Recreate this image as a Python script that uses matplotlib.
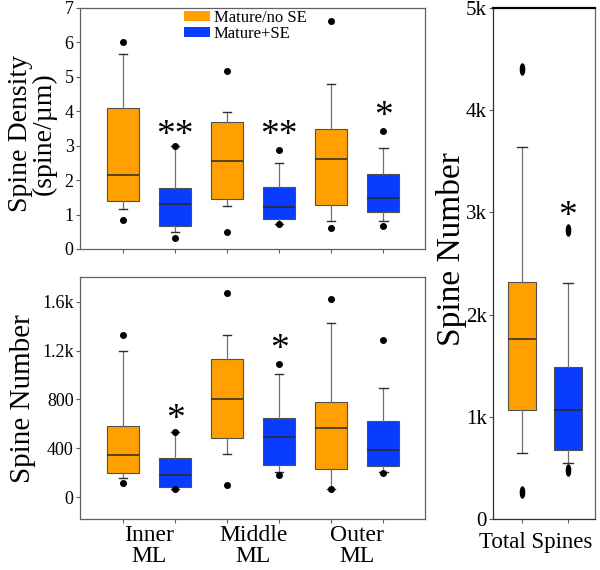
import numpy as np
import matplotlib.pyplot as plt
from matplotlib.path import Path
from matplotlib.patches import Patch

plt.rcParams['font.family'] = ['Liberation Serif', 'DejaVu Serif']

ORANGE = '#FFA000'
BLUE = '#0A3CFF'
EDGE = '#505050'

# --- Data ---
series = ["Mature/no SE", "Mature+SE"]
regions = ["Inner\nML", "Middle\nML", "Outer\nML"]

# spine density, boxes ordered inner/orange, inner/blue, middle/orange, ...
dens_lo = [1.15, 0.48, 1.25, 0.73, 0.81, 0.81]
dens_q1 = [1.39, 0.67, 1.46, 0.87, 1.28, 1.07]
dens_med = [2.15, 1.30, 2.55, 1.23, 2.62, 1.49]
dens_q3 = [4.09, 1.78, 3.70, 1.81, 3.48, 2.19]
dens_hi = [5.65, 2.98, 3.99, 2.51, 4.79, 2.93]
dens_fl = [[6.02, 0.84], [3.0, 0.32], [5.18, 0.48], [2.88, 0.73], [6.63, 0.62], [3.43, 0.68]]
dens_stars = ["", "**", "", "**", "", "*"]
dens_star_y = [0, 3.28, 0, 3.28, 0, 3.84]

# spine number per region
num_lo = [153, 63, 350, 203, 63, 203]
num_q1 = [194, 85, 481, 263, 230, 254]
num_med = [342, 180, 801, 495, 564, 383]
num_q3 = [582, 320, 1132, 648, 777, 624]
num_hi = [1198, 536, 1329, 1012, 1425, 894]
num_fl = [[1329, 112], [536, 63], [1674, 98], [1089, 180], [1627, 63], [1291, 194]]
num_stars = ["", "*", "", "*", "", ""]
num_star_y = [0, 632, 0, 1206, 0, 0]
num_ticks = [0, 400, 800, 1200, 1600]
num_ticklabels = ["0", "400", "800", "1.2k", "1.6k"]

# total spines
tot_lo = [643, 551]
tot_q1 = [1067, 672]
tot_med = [1761, 1064]
tot_q3 = [2322, 1484]
tot_hi = [3643, 2306]
tot_fl = [[4400, 261], [2828, 479]]
tot_stars = ["", "*"]
tot_star_y = [0, 2955]
tot_ticks = [0, 1000, 2000, 3000, 4000, 5000]
tot_ticklabels = ["0", "1k", "2k", "3k", "4k", "5k"]


def draw_boxes(ax, lo, q1, med, q3, hi, fl, marker='o', ms=4, width=0.62, capw=0.16):
    stats = []
    for i in range(len(lo)):
        stats.append(dict(whislo=lo[i], q1=q1[i], med=med[i], q3=q3[i],
                          whishi=hi[i], fliers=fl[i]))
    pos = np.arange(1, len(lo) + 1)
    bp = ax.bxp(stats, positions=pos, widths=width, patch_artist=True,
                showfliers=True, capwidths=capw,
                boxprops=dict(edgecolor=EDGE, linewidth=0.8),
                medianprops=dict(color='#282828', linewidth=1.1),
                whiskerprops=dict(color='#707070', linewidth=0.9),
                capprops=dict(color='#303030', linewidth=1.0),
                flierprops=dict(marker=marker, markerfacecolor='black',
                                markeredgecolor='black', markersize=ms))
    for i, b in enumerate(bp['boxes']):
        b.set_facecolor(ORANGE if i % 2 == 0 else BLUE)
    return pos


def add_stars(ax, pos, stars, ys, size):
    for p, s, y in zip(pos, stars, ys):
        if s:
            ax.text(p, y, s, ha='center', va='center', fontsize=size)


def style(ax, labelsize):
    for sp in ax.spines.values():
        sp.set_color('#606060')
        sp.set_linewidth(0.9)
    ax.tick_params(axis='both', direction='out', length=3, width=0.8,
                   color='#606060', labelsize=labelsize, pad=1.5)


fig = plt.figure(figsize=(6, 5.7), dpi=100)

# top-left: density
ax1 = fig.add_axes([0.1333, 0.5632, 0.575, 0.423])
pos = draw_boxes(ax1, dens_lo, dens_q1, dens_med, dens_q3, dens_hi, dens_fl)
add_stars(ax1, pos, dens_stars, dens_star_y, 27)
ax1.set_xlim(0.17, 6.8)
ax1.set_ylim(0, 7)
ax1.set_yticks(range(8))
ax1.set_xticks(pos)
ax1.set_xticklabels([])
style(ax1, 13)
ax1.set_ylabel("Spine Density\n(spine/\u00b5m)", fontsize=20, linespacing=0.95)
ax1.yaxis.set_label_coords(-0.067, 0.48)
handles = [Patch(facecolor=ORANGE, edgecolor='none'), Patch(facecolor=BLUE, edgecolor='none')]
ax1.legend(handles, series, loc='upper left', bbox_to_anchor=(0.296, 1.0),
           frameon=False, fontsize=12, handlelength=1.6, handleheight=0.55,
           handletextpad=0.2, labelspacing=0.05, borderpad=0.1, borderaxespad=0)

# bottom-left: spine number
ax2 = fig.add_axes([0.1333, 0.0895, 0.575, 0.4246])
pos = draw_boxes(ax2, num_lo, num_q1, num_med, num_q3, num_hi, num_fl)
add_stars(ax2, pos, num_stars, num_star_y, 27)
ax2.set_xlim(0.17, 6.8)
ax2.set_ylim(-180, 1805)
ax2.set_yticks(num_ticks)
ax2.set_yticklabels(num_ticklabels)
ax2.set_xticks(pos)
ax2.set_xticklabels([])
ax2.set_xticks([1.5, 3.5, 5.5], minor=True)
ax2.set_xticklabels(regions, minor=True, fontsize=17, linespacing=1.05)
style(ax2, 13)
ax2.tick_params(axis='x', which='minor', length=0, pad=4)
ax2.set_ylabel("Spine Number", fontsize=21)
ax2.yaxis.set_label_coords(-0.128, 0.496)

# right: total spines (fliers drawn as narrow ellipses)
ell = Path.unit_circle()
ell = Path(ell.vertices * np.array([0.38, 1.0]), ell.codes)
ax3 = fig.add_axes([0.8217, 0.0895, 0.17, 0.8965])
pos = draw_boxes(ax3, tot_lo, tot_q1, tot_med, tot_q3, tot_hi, tot_fl,
                 marker=ell, ms=8, width=0.6, capw=0.2)
add_stars(ax3, pos, tot_stars, tot_star_y, 27)
ax3.set_xlim(0.37, 2.59)
ax3.set_ylim(0, 5000)
ax3.set_yticks(tot_ticks)
ax3.set_yticklabels(tot_ticklabels)
ax3.set_xticks(pos)
ax3.set_xticklabels([])
style(ax3, 15)
ax3.spines['top'].set_color('black')
ax3.spines['top'].set_linewidth(1.6)
ax3.spines['left'].set_color('#303030')
ax3.spines['bottom'].set_color('#303030')
ax3.set_xlabel("Total Spines", fontsize=16.5)
ax3.xaxis.set_label_coords(0.42, -0.025)
ax3.xaxis.label.set_va('top')
ax3.set_ylabel("Spine Number", fontsize=24)
ax3.yaxis.set_label_coords(-0.255, 0.528)

fig.savefig("out.png", dpi=100)
